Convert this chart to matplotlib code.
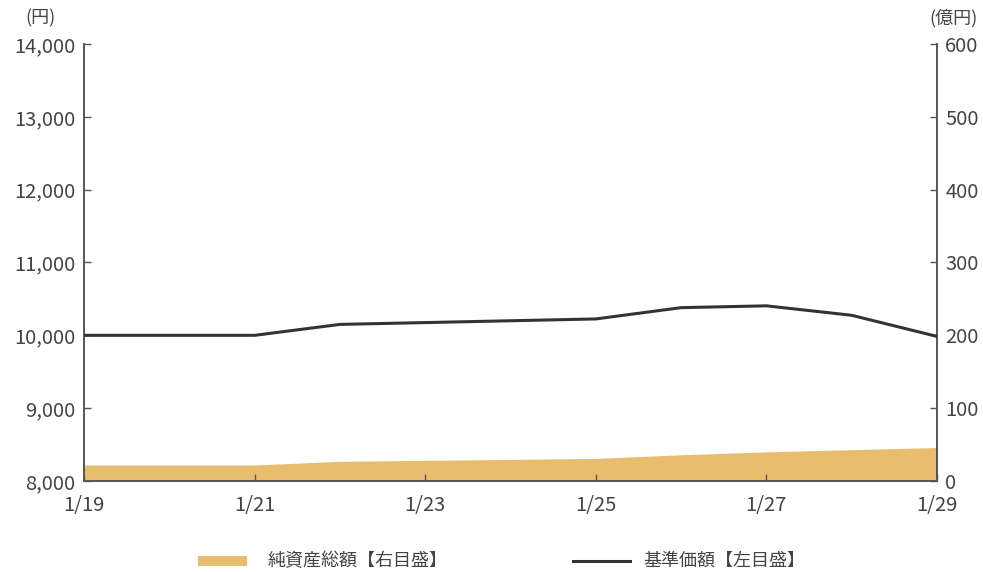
import matplotlib
matplotlib.use('Agg')
import matplotlib.pyplot as plt
import numpy as np

plt.rcParams['font.family'] = ['Noto Sans CJK JP', 'DejaVu Sans']

# 基準価額 (円, left axis)
nav_days = [19, 21, 22, 25, 26, 27, 28, 29]
nav_vals = [10000, 10000, 10150, 10225, 10380, 10405, 10275, 9985]
# 純資産総額 (億円, right axis)
aum_days = [19, 21, 22, 25, 26, 27, 28, 29]
aum_vals = [22, 22, 27, 31, 36, 40, 43, 46]

xticks = [19, 21, 23, 25, 27, 29]
xlabels = ['1/19', '1/21', '1/23', '1/25', '1/27', '1/29']
lticks = [8000, 9000, 10000, 11000, 12000, 13000, 14000]
rticks = [0, 100, 200, 300, 400, 500, 600]

txt = '#444444'
spine = '#555555'

fig = plt.figure(figsize=(9.83, 5.72), dpi=100)
ax = fig.add_axes([0.0855, 0.1591, 0.8677, 0.764])
ax2 = ax.twinx()

ax2.fill_between(aum_days, aum_vals, 0, color='#E8BE6E', lw=0, zorder=1)
ax.plot(nav_days, nav_vals, color='#333333', lw=2.2, zorder=3)

ax.set_zorder(ax2.get_zorder() + 1)
ax.patch.set_visible(False)

ax.set_xlim(19, 29)
ax.set_ylim(8000, 14000)
ax2.set_ylim(0, 600)
ax.set_xticks(xticks)
ax.set_xticklabels(xlabels)
ax.set_yticks(lticks)
ax.set_yticklabels([f'{v:,}' for v in lticks])
ax2.set_yticks(rticks)
ax2.set_yticklabels([str(v) for v in rticks])

for a in (ax, ax2):
    a.spines['top'].set_visible(False)
    for s in ('left', 'right', 'bottom'):
        a.spines[s].set_color(spine)
        a.spines[s].set_linewidth(1.2)
    a.tick_params(direction='in', length=5, width=1, color=spine,
                  labelcolor=txt, labelsize=14.5, pad=6)

ax.tick_params(axis='x', pad=10)

fig.text(0.041, 0.968, '(円)', ha='center', va='center', fontsize=13, color=txt)
fig.text(0.970, 0.968, '(億円)', ha='center', va='center', fontsize=13, color=txt)

# legend
ly = 1 - 561 / 572
fig.patches.append(plt.Rectangle((198 / 983, ly - 0.009), 49 / 983, 0.018,
                                 transform=fig.transFigure, color='#E8BE6E', lw=0))
fig.text(268 / 983, ly, '純資産総額【右目盛】', ha='left', va='center', fontsize=13, color=txt)
fig.add_artist(plt.Line2D([573 / 983, 630 / 983], [ly, ly], transform=fig.transFigure,
                          color='#333333', lw=2.2))
fig.text(643 / 983, ly, '基準価額【左目盛】', ha='left', va='center', fontsize=13, color=txt)

fig.savefig('out.png', dpi=100)
